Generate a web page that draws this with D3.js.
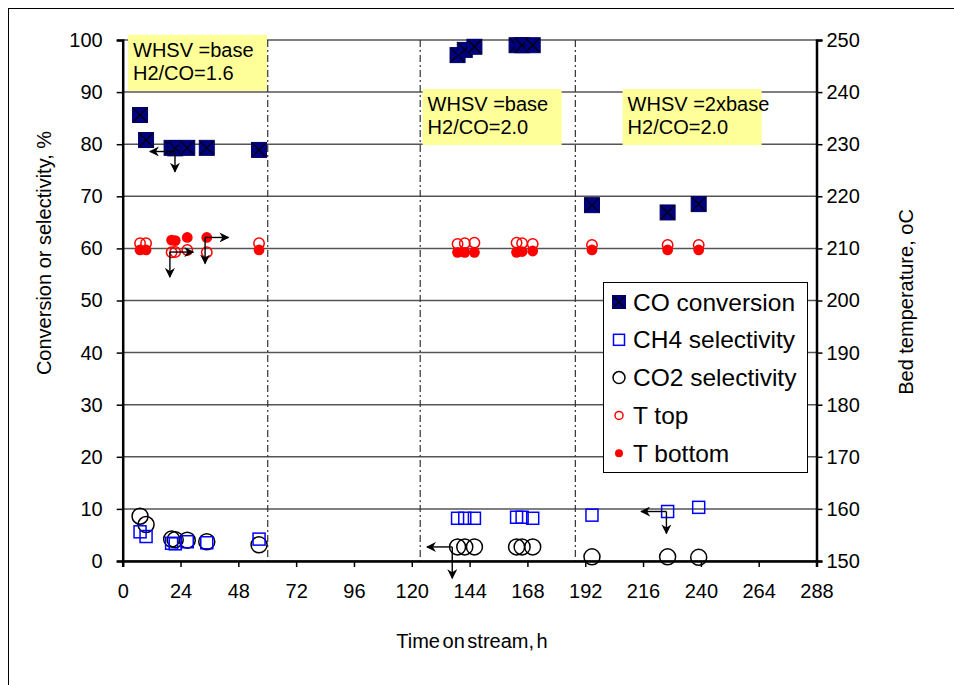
<!DOCTYPE html>
<html>
<head>
<meta charset="utf-8">
<script src="https://cdn.jsdelivr.net/npm/d3@7"></script>
<style>
  html, body { margin: 0; padding: 0; background: #fff; }
  svg { display: block; font-family: Arial, 'Liberation Sans', sans-serif; }
</style>
</head>
<body>
<div id="chart"></div>
<script>
/**
 * Time-on-stream chart: conversion / selectivity (left) and bed temperature (right).
 */

// sample times, h
const times = [7.2, 9.7, 20.3, 21.8, 26.8, 34.9, 56.6,
    139, 142, 146, 163.5, 165.8, 170.2,
    194.8, 226.2, 239.1];

// left axis series, %
const coConversion = [85.6, 80.8, 79.3, 79.2, 79.3, 79.3, 78.9,
    97.1, 98.1, 98.7, 99.0, 99.0, 99.0,
    68.3, 66.9, 68.5];
const ch4Selectivity = [5.6, 4.7, 3.4, 3.3, 3.7, 3.5, 4.2,
    8.2, 8.2, 8.2, 8.4, 8.4, 8.2,
    8.8, 9.5, 10.3];
const co2Selectivity = [8.6, 7.0, 4.2, 4.1, 4.0, 3.7, 3.1,
    2.7, 2.7, 2.7, 2.7, 2.7, 2.7,
    0.8, 0.8, 0.7];

// right axis series, oC
const tTop = [211.0, 211.0, 209.25, 209.3, 209.7, 209.25, 211.0,
    210.85, 211.0, 211.1, 211.1, 211.0, 210.85,
    210.65, 210.65, 210.65];
const tBottom = [209.7, 209.7, 211.6, 211.5, 212.1, 212.1, 209.7,
    209.25, 209.25, 209.25, 209.25, 209.4, 209.5,
    209.7, 209.7, 209.7];

// run period boundaries, h
const periodBreaks = [60.2, 123.5, 187.9];

// run condition notes: [start time h, top value %, lines]
const notes = [
    { t: 2.2, v: 101.0, lines: ['WHSV =base', 'H2/CO=1.6'] },
    { t: 124.5, v: 90.6, lines: ['WHSV =base', 'H2/CO=2.0'] },
    { t: 207.5, v: 90.6, lines: ['WHSV =2xbase', 'H2/CO=2.0'] }
];

// axis pointers: corner (t, v), horizontal end t, vertical end v
const pointers = [
    { t: 21.7, v: 78.6, tEnd: 11.3, vEnd: 74.7 },
    { t: 19.6, v: 59.3, tEnd: 29.3, vEnd: 54.5 },
    { t: 34.2, v: 62.1, tEnd: 43.9, vEnd: 57.1 },
    { t: 136.8, v: 2.7, tEnd: 126.3, vEnd: -3.3 },
    { t: 225.7, v: 9.5, tEnd: 215.2, vEnd: 5.3 }
];

const xTicks = d3.range(0, 289, 24);
const yTicks = d3.range(0, 101, 10);
const tempTicks = d3.range(150, 251, 10);

const legendLabels = ['CO conversion', 'CH4 selectivity', 'CO2 selectivity', 'T top', 'T bottom'];

const WIDTH = 954;
const HEIGHT = 685;

const svg = d3
    .select('#chart')
    .append('svg')
    .attr('width', WIDTH)
    .attr('height', HEIGHT);

const x = d3.scaleLinear().domain([0, 288]).range([122.7, 816.5]);
const y = d3.scaleLinear().domain([0, 100]).range([561, 40]);
const yT = d3.scaleLinear().domain([150, 250]).range([561, 40]);

// outer frame
svg.append('rect')
    .attr('x', 8.5).attr('y', 8.5)
    .attr('width', 960).attr('height', 700)
    .attr('fill', 'none')
    .attr('stroke', '#000')
    .attr('stroke-width', 1);

// gridlines
svg.append('g')
    .selectAll('line')
    .data(yTicks)
    .join('line')
    .attr('x1', x(0)).attr('x2', x(288))
    .attr('y1', d => y(d)).attr('y2', d => y(d))
    .attr('stroke', '#555')
    .attr('stroke-width', 1.5);

// period boundaries
svg.append('g')
    .selectAll('line')
    .data(periodBreaks)
    .join('line')
    .attr('x1', d => x(d)).attr('x2', d => x(d))
    .attr('y1', y(100)).attr('y2', y(0))
    .attr('stroke', '#333')
    .attr('stroke-width', 1.2)
    .attr('stroke-dasharray', '7,3,2,3');

// condition notes
const noteG = svg.append('g')
    .selectAll('g')
    .data(notes)
    .join('g')
    .attr('transform', d => `translate(${x(d.t)},${y(d.v)})`);

noteG.append('rect')
    .attr('width', 139)
    .attr('height', 56)
    .attr('fill', '#ffff99');

noteG.selectAll('text')
    .data(d => d.lines)
    .join('text')
    .attr('x', 5)
    .attr('y', (d, i) => 22 + i * 23.5)
    .attr('font-size', '20px')
    .attr('fill', '#000')
    .text(d => d);

// axes
const xAxis = svg.append('g')
    .attr('transform', `translate(0,${y(0)})`)
    .call(d3.axisBottom(x).tickValues(xTicks).tickSize(6).tickPadding(17));

const yAxis = svg.append('g')
    .attr('transform', `translate(${x(0)},0)`)
    .call(d3.axisLeft(y).tickValues(yTicks).tickSize(6).tickPadding(14));

const yTAxis = svg.append('g')
    .attr('transform', `translate(${x(288)},0)`)
    .call(d3.axisRight(yT).tickValues(tempTicks).tickSize(6).tickPadding(4));

[xAxis, yAxis, yTAxis].forEach(g => {
    g.selectAll('text')
        .attr('font-size', '20px')
        .attr('font-family', 'Arial, Liberation Sans, sans-serif')
        .attr('fill', '#000');
    g.selectAll('line').attr('stroke', '#000').attr('stroke-width', 1.5);
    g.select('.domain').attr('stroke', '#000').attr('stroke-width', 2.5);
});

// axis titles
svg.append('text')
    .attr('transform', 'translate(51,253) rotate(-90)')
    .attr('text-anchor', 'middle')
    .attr('font-size', '20px')
    .text('Conversion or selectivity, %');

svg.append('text')
    .attr('transform', 'translate(913,302) rotate(-90)')
    .attr('text-anchor', 'middle')
    .attr('font-size', '20px')
    .text('Bed temperature, oC');

svg.append('text')
    .attr('x', 472)
    .attr('y', 648)
    .attr('text-anchor', 'middle')
    .attr('font-size', '20px')
    .attr('word-spacing', '-3px')
    .text('Time on stream, h');

// marker painters
function coMark(g, s) {
    g.append('rect')
        .attr('x', -s / 2).attr('y', -s / 2)
        .attr('width', s).attr('height', s)
        .attr('fill', '#000080')
        .attr('stroke', '#000060')
        .attr('stroke-width', 1);
    g.append('path')
        .attr('d', `M${-s / 2 + 1},${-s / 2 + 1}L${s / 2 - 1},${s / 2 - 1}M${s / 2 - 1},${-s / 2 + 1}L${-s / 2 + 1},${s / 2 - 1}`)
        .attr('stroke', '#000')
        .attr('stroke-width', 1.2);
}

function ch4Mark(g, s) {
    g.append('rect')
        .attr('x', -s / 2).attr('y', -s / 2)
        .attr('width', s).attr('height', s)
        .attr('fill', 'none')
        .attr('stroke', '#0000ff')
        .attr('stroke-width', 1.5);
}

function ringMark(g, r, color) {
    g.append('circle')
        .attr('r', r)
        .attr('fill', 'none')
        .attr('stroke', color)
        .attr('stroke-width', 1.5);
}

function dotMark(g, r) {
    g.append('circle')
        .attr('r', r)
        .attr('fill', '#ff0000');
}

const pts = times.map((t, i) => i);

// CO2 selectivity
svg.append('g').selectAll('g').data(pts).join('g')
    .attr('transform', i => `translate(${x(times[i])},${y(co2Selectivity[i])})`)
    .each(function () { ringMark(d3.select(this), 8, '#000'); });

// CH4 selectivity
svg.append('g').selectAll('g').data(pts).join('g')
    .attr('transform', i => `translate(${x(times[i])},${y(ch4Selectivity[i])})`)
    .each(function () { ch4Mark(d3.select(this), 12); });

// CO conversion
svg.append('g').selectAll('g').data(pts).join('g')
    .attr('transform', i => `translate(${x(times[i])},${y(coConversion[i])})`)
    .each(function () { coMark(d3.select(this), 15); });

// T top
svg.append('g').selectAll('g').data(pts).join('g')
    .attr('transform', i => `translate(${x(times[i])},${yT(tTop[i])})`)
    .each(function () { ringMark(d3.select(this), 5.2, '#ff0000'); });

// T bottom
svg.append('g').selectAll('g').data(pts).join('g')
    .attr('transform', i => `translate(${x(times[i])},${yT(tBottom[i])})`)
    .each(function () { dotMark(d3.select(this), 5.4); });

// axis pointer arrows
const defs = svg.append('defs');
defs.append('marker')
    .attr('id', 'head')
    .attr('viewBox', '0 0 10 10')
    .attr('refX', 9).attr('refY', 5)
    .attr('markerWidth', 10).attr('markerHeight', 10)
    .attr('markerUnits', 'userSpaceOnUse')
    .attr('orient', 'auto')
    .append('path')
    .attr('d', 'M0,0L10,5L0,10L3,5Z')
    .attr('fill', '#000');

const ptrG = svg.append('g').selectAll('g').data(pointers).join('g');
ptrG.append('line')
    .attr('x1', d => x(d.t)).attr('y1', d => y(d.v))
    .attr('x2', d => x(d.tEnd)).attr('y2', d => y(d.v))
    .attr('stroke', '#000').attr('stroke-width', 1.4)
    .attr('marker-end', 'url(#head)');
ptrG.append('line')
    .attr('x1', d => x(d.t)).attr('y1', d => y(d.v))
    .attr('x2', d => x(d.t)).attr('y2', d => y(d.vEnd))
    .attr('stroke', '#000').attr('stroke-width', 1.4)
    .attr('marker-end', 'url(#head)');

// legend
const legend = svg.append('g').attr('transform', 'translate(603,282)');
legend.append('rect')
    .attr('x', 0.5).attr('y', 0.5)
    .attr('width', 204).attr('height', 190)
    .attr('fill', '#fff')
    .attr('stroke', '#000')
    .attr('stroke-width', 1);

const rows = legend.selectAll('g.row')
    .data(legendLabels)
    .join('g')
    .attr('class', 'row')
    .attr('transform', (d, i) => `translate(16,${20 + i * 37.8})`);

rows.each(function (d, i) {
    const g = d3.select(this);
    if (i === 0) coMark(g, 13);
    else if (i === 1) ch4Mark(g, 11);
    else if (i === 2) ringMark(g, 6, '#000');
    else if (i === 3) ringMark(g, 4, '#ff0000');
    else dotMark(g, 4);
});

rows.append('text')
    .attr('x', 14)
    .attr('y', 8.5)
    .attr('font-size', '24.5px')
    .attr('fill', '#000')
    .text(d => d);
</script>
</body>
</html>
